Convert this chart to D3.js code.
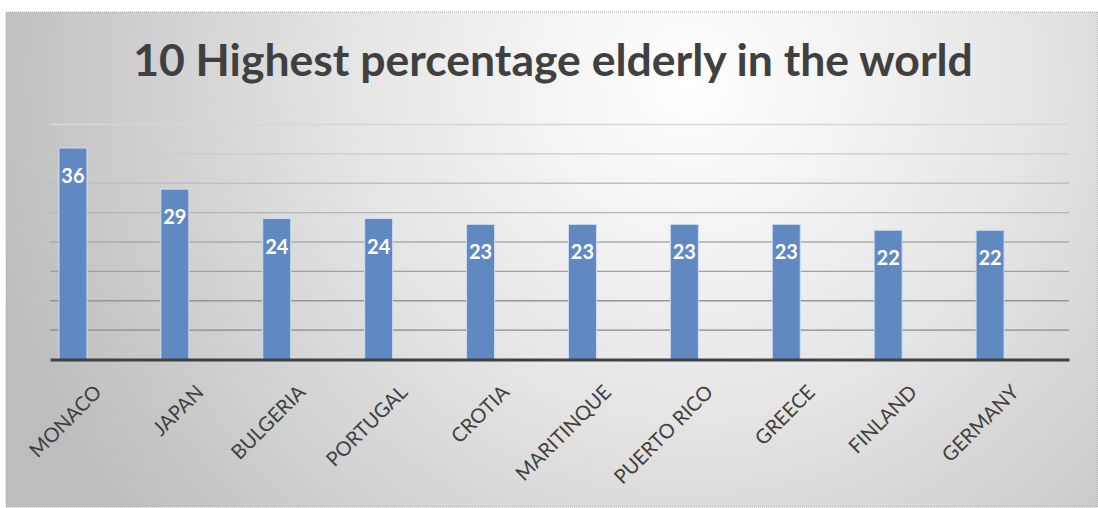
<!DOCTYPE html>
<html>
<head>
<meta charset="utf-8">
<script src="https://cdn.jsdelivr.net/npm/d3@7"></script>
<style>
  html, body { margin: 0; padding: 0; background: #ffffff; }
  svg { display: block; }
</style>
</head>
<body>
<svg id="chart" width="1098" height="508"></svg>
<script>
// ---- data ----
const categories = ["MONACO", "JAPAN", "BULGERIA", "PORTUGAL", "CROTIA", "MARITINQUE", "PUERTO RICO", "GREECE", "FINLAND", "GERMANY"];
const values = [36, 29, 24, 24, 23, 23, 23, 23, 22, 22];
const yTicks = [0, 5, 10, 15, 20, 25, 30, 35, 40];
const seriesSlots = ["s1", "s2", "s3"]; // clustered layout slots, only s1 carries data
const titleText = "10 Highest percentage elderly in the world";

// ---- layout ----
const W = 1098, H = 508;
const frame = { x: 6, y: 12, w: 1092, h: 495 };
const plot = { left: 50, right: 1069, top: 124.5, bottom: 359.5 };
const font = "Lato, 'Open Sans', sans-serif";

const svg = d3.select("#chart");
const defs = svg.append("defs");
const grad = defs.append("radialGradient")
  .attr("id", "bg").attr("gradientUnits", "userSpaceOnUse")
  .attr("cx", 690).attr("cy", 80).attr("r", 720);
grad.append("stop").attr("offset", "0%").attr("stop-color", "#ffffff");
grad.append("stop").attr("offset", "45%").attr("stop-color", "#e6e6e6");
grad.append("stop").attr("offset", "100%").attr("stop-color", "#bdbdbd");

svg.append("rect")
  .attr("x", frame.x).attr("y", frame.y).attr("width", frame.w).attr("height", frame.h)
  .attr("fill", "url(#bg)")
  .attr("stroke", "#a6a6a6").attr("stroke-width", 1).attr("stroke-dasharray", "1,1");

// scales
const x = d3.scaleBand().domain(categories).range([plot.left, plot.right]).paddingInner(0).paddingOuter(0);
const xs = d3.scaleBand().domain(seriesSlots).range([0, x.bandwidth()]).paddingInner(0).paddingOuter(0.32);
const y = d3.scaleLinear().domain([0, 40]).range([plot.bottom, plot.top]);

// gridlines
const gridColor = d3.interpolateRgb("#d6d6d6", "#7f7f7f");
const gridG = svg.append("g");
gridG.selectAll("line").data(yTicks.filter(d => d > 0)).join("line")
  .attr("x1", plot.left).attr("x2", plot.right)
  .attr("y1", d => y(d)).attr("y2", d => y(d))
  .attr("stroke", d => gridColor(1 - d / 40))
  .attr("stroke-width", 1.3);

// bars
const data = categories.map((c, i) => ({ c, v: values[i] }));
svg.append("g").selectAll("rect").data(data).join("rect")
  .attr("x", d => x(d.c) + xs("s1"))
  .attr("width", xs.bandwidth())
  .attr("y", d => y(d.v))
  .attr("height", d => y(0) - y(d.v))
  .attr("fill", "#6089c2")
  .attr("stroke", "#cfdcee").attr("stroke-width", 1);

// baseline axis
const xAxis = d3.axisBottom(x).tickSize(0).tickFormat("");
const axG = svg.append("g").attr("transform", `translate(0,${y(0)})`).call(xAxis);
axG.select(".domain").attr("stroke", "#404040").attr("stroke-width", 3.2);

// category labels
svg.append("g").selectAll("text").data(categories).join("text")
  .attr("transform", d => `translate(${x(d) + x.bandwidth() / 2 + 2},${y(0) + 34}) rotate(-45)`)
  .attr("text-anchor", "end")
  .attr("font-family", font).attr("font-size", 20)
  .attr("fill", "#404040")
  .text(d => d);

// data labels
svg.append("g").selectAll("text").data(data).join("text")
  .attr("x", d => x(d.c) + xs("s1") + xs.bandwidth() / 2)
  .attr("y", d => y(d.v) + 35)
  .attr("text-anchor", "middle")
  .attr("font-family", font).attr("font-size", 20).attr("font-weight", "bold")
  .attr("fill", "#ffffff")
  .text(d => d.v);

// title
const title = svg.append("text")
  .attr("x", 553).attr("y", 76)
  .attr("text-anchor", "middle")
  .attr("font-family", font).attr("font-weight", "bold")
  .attr("font-size", 40)
  .attr("fill", "#404040")
  .text(titleText);
const tw = title.node().getComputedTextLength();
title.attr("font-size", 40 * 840 / tw);
</script>
</body>
</html>
